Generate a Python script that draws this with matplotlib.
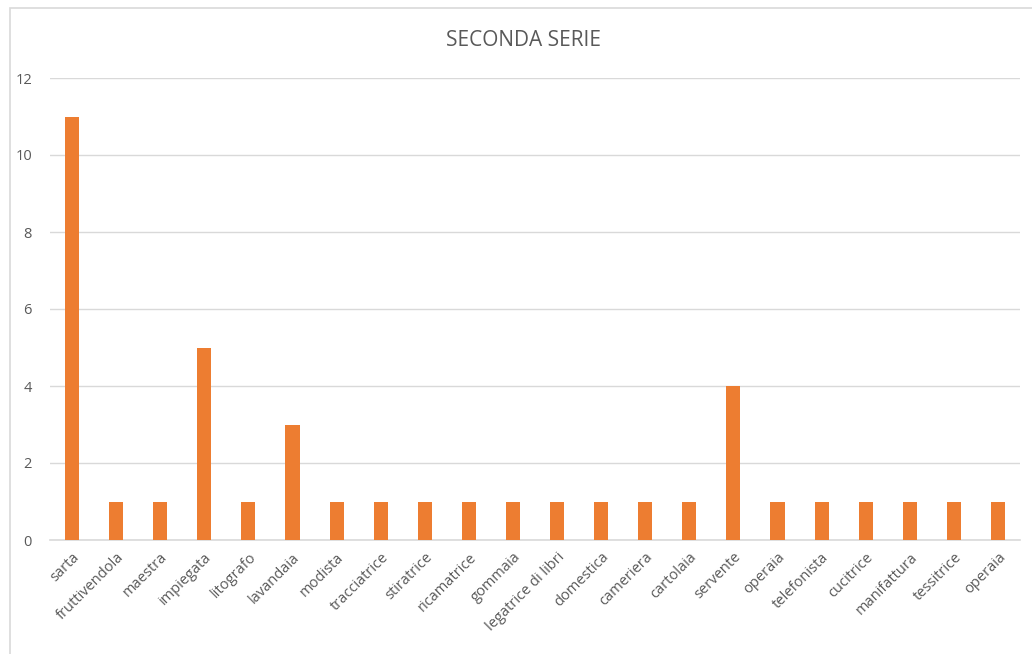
import numpy as np
import matplotlib.pyplot as plt
from matplotlib.patches import Rectangle

categories = ['sarta', 'fruttivendola', 'maestra', 'impiegata', 'litografo', 'lavandaia',
              'modista', 'tracciatrice', 'stiratrice', 'ricamatrice', 'gommaia',
              'legatrice di libri', 'domestica', 'cameriera', 'cartolaia', 'servente',
              'operaia', 'telefonista', 'cucitrice', 'manifattura', 'tessitrice', 'operaia']
values = [11, 1, 1, 5, 1, 3, 1, 1, 1, 1, 1, 1, 1, 1, 1, 4, 1, 1, 1, 1, 1, 1]
yticks = [0, 2, 4, 6, 8, 10, 12]

plt.rcParams['font.family'] = ['Open Sans', 'DejaVu Sans']
text_color = '#595959'

fig = plt.figure(figsize=(10.32, 6.54), dpi=100)
# chart frame
fig.patches.append(Rectangle((10 / 1032, -0.01), 1.02, 1 - 8 / 654 + 0.01, transform=fig.transFigure,
                             fill=False, edgecolor='#D9D9D9', linewidth=1.2))

ax = fig.add_axes([50 / 1032, 1 - 540 / 654, 970 / 1032, 462 / 654])
x = np.arange(len(categories))
ax.bar(x, values, width=0.32, color='#ED7D31', zorder=3)

ax.set_xlim(-0.5, len(categories) - 0.5)
ax.set_ylim(0, 12)
ax.set_yticks(yticks)
ax.set_yticklabels([str(t) for t in yticks], color=text_color, fontsize=10.5)
ax.set_xticks(x)
ax.set_xticklabels(categories, rotation=45, ha='right', rotation_mode='anchor',
                   color=text_color, fontsize=10.5)
ax.tick_params(axis='both', length=0)
ax.tick_params(axis='y', pad=13)
ax.tick_params(axis='x', pad=7)
ax.grid(axis='y', color='#D9D9D9', linewidth=1, zorder=0)
for s in ['top', 'right', 'left']:
    ax.spines[s].set_visible(False)
ax.spines['bottom'].set_color('#D9D9D9')
ax.spines['bottom'].set_linewidth(1.2)

fig.text(524 / 1032, 1 - 40 / 654, 'SECONDA SERIE', ha='center', va='center',
         fontsize=15, color=text_color, family=['Liberation Sans Narrow', 'Open Sans'])

fig.savefig('out.png', dpi=100)
